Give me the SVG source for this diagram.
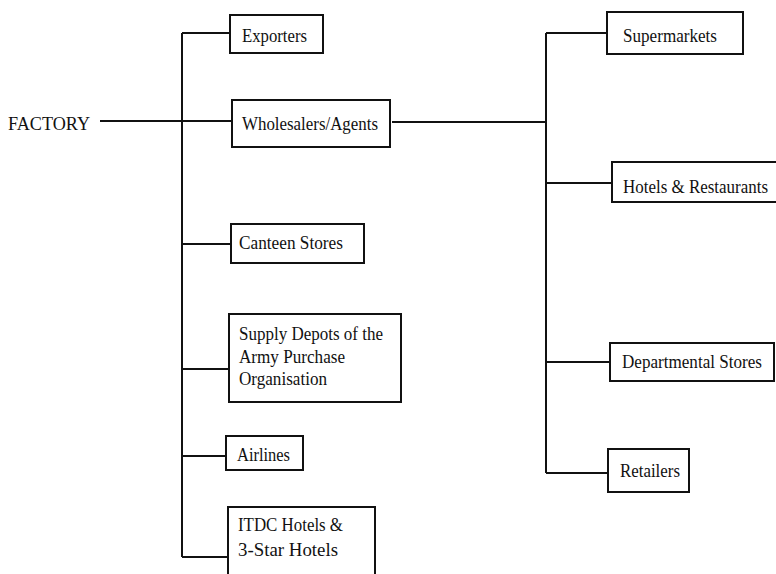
<svg xmlns="http://www.w3.org/2000/svg" width="776" height="574" viewBox="0 0 776 574">
  <style>
    .box { fill: #fff; stroke: #111; stroke-width: 2; }
    .lbl { font-family: "Liberation Serif", "Times New Roman", serif; font-size: 18px; fill: #111; }
    .wire { fill: none; stroke: #111; stroke-width: 2; }
  </style>
  <rect width="776" height="574" fill="#fff"/>

  <g id="connectors">
    <!-- factory feed and left distribution bus -->
    <path class="wire" d="M100 121 H232"/>
    <path class="wire" d="M182 33 V557"/>
    <path class="wire" d="M182 33 H230"/>
    <path class="wire" d="M182 244 H231"/>
    <path class="wire" d="M182 369 H229"/>
    <path class="wire" d="M182 456 H226"/>
    <path class="wire" d="M182 557 H227"/>
    <!-- wholesaler feed and right distribution bus -->
    <path class="wire" d="M392 122 H546"/>
    <path class="wire" d="M546 33 V473"/>
    <path class="wire" d="M546 33 H607"/>
    <path class="wire" d="M546 183 H612"/>
    <path class="wire" d="M546 362 H610"/>
    <path class="wire" d="M546 473 H608"/>
  </g>

  <g id="factory">
    <text class="lbl" x="8" y="130" textLength="82" lengthAdjust="spacingAndGlyphs">FACTORY</text>
  </g>

  <g id="exporters">
    <rect class="box" x="230" y="15" width="93" height="38"/>
    <text class="lbl" x="242" y="42" textLength="65" lengthAdjust="spacingAndGlyphs">Exporters</text>
  </g>

  <g id="wholesalers">
    <rect class="box" x="232" y="100" width="158" height="47"/>
    <text class="lbl" x="242" y="130" textLength="136" lengthAdjust="spacingAndGlyphs">Wholesalers/Agents</text>
  </g>

  <g id="canteen">
    <rect class="box" x="231" y="224" width="133" height="39"/>
    <text class="lbl" x="239" y="249" textLength="104" lengthAdjust="spacingAndGlyphs">Canteen Stores</text>
  </g>

  <g id="supply-depots">
    <rect class="box" x="229" y="314" width="172" height="88"/>
    <text class="lbl" x="239" y="340" textLength="144" lengthAdjust="spacingAndGlyphs">Supply Depots of the</text>
    <text class="lbl" x="239" y="363" textLength="106" lengthAdjust="spacingAndGlyphs">Army Purchase</text>
    <text class="lbl" x="239" y="385" textLength="88" lengthAdjust="spacingAndGlyphs">Organisation</text>
  </g>

  <g id="airlines">
    <rect class="box" x="226" y="436" width="77" height="34"/>
    <text class="lbl" x="237" y="461" textLength="53" lengthAdjust="spacingAndGlyphs">Airlines</text>
  </g>

  <g id="itdc">
    <rect class="box" x="228" y="507" width="147" height="72"/>
    <text class="lbl" x="238" y="531" textLength="105" lengthAdjust="spacingAndGlyphs">ITDC Hotels &amp;</text>
    <text class="lbl" x="238" y="556" textLength="100" lengthAdjust="spacingAndGlyphs">3-Star Hotels</text>
  </g>

  <g id="supermarkets">
    <rect class="box" x="607" y="12" width="136" height="42"/>
    <text class="lbl" x="623" y="42" textLength="94" lengthAdjust="spacingAndGlyphs">Supermarkets</text>
  </g>

  <g id="hotels-restaurants">
    <rect class="box" x="612" y="162" width="180" height="40"/>
    <text class="lbl" x="623" y="193" textLength="145" lengthAdjust="spacingAndGlyphs">Hotels &amp; Restaurants</text>
  </g>

  <g id="departmental">
    <rect class="box" x="610" y="343" width="164" height="38"/>
    <text class="lbl" x="622" y="368" textLength="140" lengthAdjust="spacingAndGlyphs">Departmental Stores</text>
  </g>

  <g id="retailers">
    <rect class="box" x="608" y="449" width="81" height="43"/>
    <text class="lbl" x="620" y="477" textLength="60" lengthAdjust="spacingAndGlyphs">Retailers</text>
  </g>
</svg>
